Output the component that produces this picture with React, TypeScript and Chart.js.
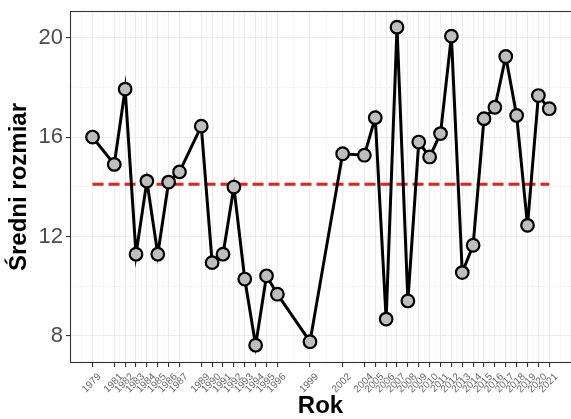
import React, { useEffect, useRef } from "react";
import { Chart, registerables } from "chart.js";

Chart.register(...registerables);

const years = [
  1979, 1981, 1982, 1983, 1984, 1985, 1986, 1987, 1989, 1990, 1991, 1992,
  1993, 1994, 1995, 1996, 1999, 2002, 2004, 2005, 2006, 2007, 2008, 2009,
  2010, 2011, 2012, 2013, 2014, 2015, 2016, 2017, 2018, 2019, 2020, 2021,
];

const meanSize = [
  16.0, 14.9, 17.93, 11.29, 14.23, 11.29, 14.19, 14.6, 16.44, 10.95, 11.29,
  13.99, 10.29, 7.63, 10.42, 9.68, 7.77, 15.33, 15.27, 16.78, 8.68, 20.42,
  9.41, 15.8, 15.2, 16.14, 20.06, 10.55, 11.65, 16.74, 17.2, 19.24, 16.87,
  12.45, 17.67, 17.14,
];

const overallMean = 14.1;

const yMajorTicks = [8, 12, 16, 20];
const yMinorTicks = [10, 14, 18];

const X_MIN = 1976.93;
const X_MAX = 2023.0;
const Y_MIN = 6.914;
const Y_MAX = 21.07;

const FONT = "'Liberation Sans', Arial, sans-serif";

// grid positions: majors at tick years, minors between (ggplot style)
function buildXGrid() {
  const step = years[1] - years[0];
  const ext = [years[0] - step, ...years, years[years.length - 1] + step];
  const minors: number[] = [];
  for (let i = 0; i < ext.length - 1; i++) {
    minors.push(ext[i], (ext[i] + ext[i + 1]) / 2);
  }
  minors.push(ext[ext.length - 1]);
  const all = new Map<number, boolean>();
  minors.forEach((v) => {
    if (v >= X_MIN && v <= X_MAX) all.set(v, false);
  });
  years.forEach((v) => all.set(v, true));
  return Array.from(all.entries())
    .map(([value, major]) => ({ value, major }))
    .sort((a, b) => a.value - b.value);
}

export default function App() {
  const ref = useRef<HTMLCanvasElement | null>(null);

  useEffect(() => {
    if (!ref.current) return;
    const xGrid = buildXGrid();
    const yGrid = [
      ...yMajorTicks.map((v) => ({ value: v, major: true })),
      ...yMinorTicks.map((v) => ({ value: v, major: false })),
    ].sort((a, b) => a.value - b.value);

    const borderPlugin = {
      id: "panelBorder",
      afterDatasetsDraw(chart: any) {
        const { ctx, chartArea } = chart;
        ctx.save();
        ctx.strokeStyle = "#333333";
        ctx.lineWidth = 1.1;
        ctx.strokeRect(
          chartArea.left + 0.5,
          chartArea.top + 0.5,
          chartArea.right - chartArea.left,
          chartArea.bottom - chartArea.top - 1
        );
        ctx.restore();
      },
    };

    const chart = new Chart(ref.current, {
      type: "line",
      data: {
        datasets: [
          {
            label: "mean",
            data: [
              { x: years[0], y: overallMean },
              { x: years[years.length - 1], y: overallMean },
            ],
            borderColor: "#E3221C",
            borderWidth: 3,
            borderDash: [11, 5],
            pointRadius: 0,
            order: 2,
          },
          {
            label: "Średni rozmiar",
            data: years.map((y, i) => ({ x: y, y: meanSize[i] })),
            borderColor: "#000000",
            borderWidth: 3,
            pointRadius: 6.3,
            pointBackgroundColor: "#BEBEBE",
            pointBorderColor: "#000000",
            pointBorderWidth: 2.2,
            tension: 0,
            order: 1,
          },
        ],
      },
      options: {
        responsive: false,
        animation: false,
        layout: { autoPadding: false, padding: { top: 11, right: 0, left: 0, bottom: 0 } },
        plugins: {
          legend: { display: false },
          tooltip: { enabled: false },
        },
        scales: {
          x: {
            type: "linear",
            min: X_MIN,
            max: X_MAX,
            afterBuildTicks: (scale: any) => {
              scale.ticks = xGrid.map((g) => ({ value: g.value }));
            },
            afterFit: (scale: any) => {
              scale.height = 56;
              scale.paddingLeft = 0;
              scale.paddingRight = 0;
            },
            border: { display: false },
            grid: {
              color: (ctx: any) => (xGrid[ctx.index]?.major ? "#EBEBEB" : "#F2F2F2"),
              lineWidth: (ctx: any) => (xGrid[ctx.index]?.major ? 1.1 : 0.8),
              tickColor: (ctx: any) => (xGrid[ctx.index]?.major ? "#333333" : "rgba(0,0,0,0)"),
              tickWidth: 1.1,
              tickLength: 4,
            },
            ticks: {
              autoSkip: false,
              minRotation: 45,
              maxRotation: 45,
              padding: 4,
              labelOffset: 7,
              color: "#666666",
              font: { family: FONT, size: 10 },
              callback: (_v: any, i: number) => (xGrid[i]?.major ? String(xGrid[i].value) : ""),
            },
            title: {
              display: true,
              text: "Rok",
              color: "#000000",
              font: { family: FONT, size: 24, weight: "bold", lineHeight: 1 },
              padding: { top: 0, bottom: 1 },
            },
          },
          y: {
            type: "linear",
            min: Y_MIN,
            max: Y_MAX,
            afterBuildTicks: (scale: any) => {
              scale.ticks = yGrid.map((g) => ({ value: g.value }));
            },
            afterFit: (scale: any) => {
              scale.width = 70;
              scale.paddingTop = 0;
              scale.paddingBottom = 0;
            },
            border: { display: false },
            grid: {
              color: (ctx: any) => (yGrid[ctx.index]?.major ? "#EBEBEB" : "#F2F2F2"),
              lineWidth: (ctx: any) => (yGrid[ctx.index]?.major ? 1.1 : 0.8),
              tickColor: (ctx: any) => (yGrid[ctx.index]?.major ? "#333333" : "rgba(0,0,0,0)"),
              tickWidth: 1.1,
              tickLength: 4,
            },
            ticks: {
              padding: 3,
              color: "#4D4D4D",
              font: { family: FONT, size: 22 },
              callback: (_v: any, i: number) => (yGrid[i]?.major ? String(yGrid[i].value) : ""),
            },
            title: {
              display: true,
              text: "Średni rozmiar",
              color: "#000000",
              font: { family: FONT, size: 24, weight: "bold", lineHeight: 1 },
              padding: { top: 7, bottom: 0 },
            },
          },
        },
      },
      plugins: [borderPlugin],
    });
    return () => chart.destroy();
  }, []);

  return (
    <div style={{ position: "absolute", left: 0, top: 0, width: 571, height: 419, background: "#ffffff" }}>
      <canvas ref={ref} width={571} height={419} style={{ display: "block" }} />
    </div>
  );
}
